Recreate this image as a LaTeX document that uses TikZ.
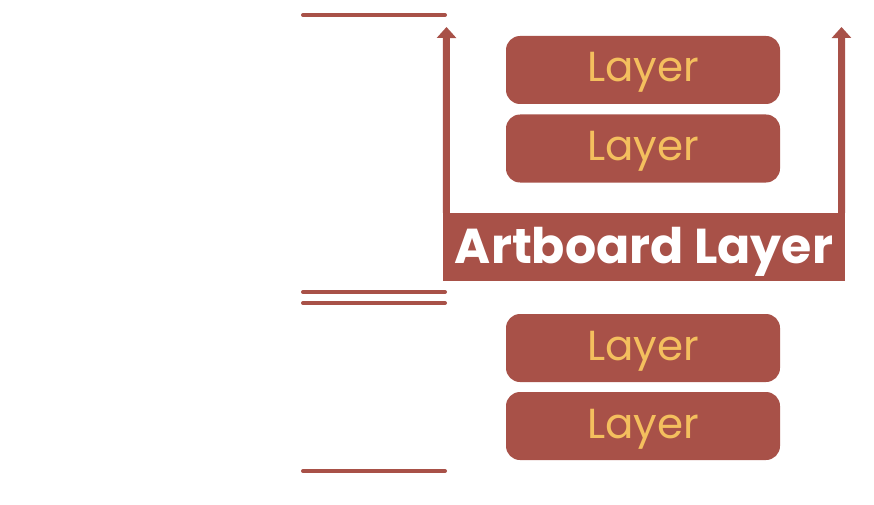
\documentclass[tikz,border=0pt]{standalone}
\usepackage{fontspec}
\newfontfamily\pop{Poppins}
\usetikzlibrary{arrows.meta}
\definecolor{brick}{HTML}{A85148}
\definecolor{gold}{HTML}{F4BF5E}
\begin{document}
\begin{tikzpicture}[x=1pt,y=-1pt,
  layerbox/.style={fill=brick,rounded corners=14pt,minimum width=274pt,minimum height=68pt,inner sep=0pt,text height=30pt,text depth=6pt,text=gold,font=\pop\fontsize{42}{42}\selectfont},
  artbox/.style={fill=brick,minimum width=402pt,minimum height=68pt,inner sep=0pt,text height=36pt,text depth=4pt,text=white,font=\pop\bfseries\fontsize{49}{49}\selectfont},
  rule/.style={draw=brick,line width=4pt,line cap=round},
  uparrow/.style={draw=brick,line width=7pt,-{Triangle[width=19pt,length=11pt]}}]
\useasboundingbox (0,0) rectangle (874,505);
\node[layerbox] (l1) at (643,70) {Layer};
\node[layerbox] (l2) at (643,148.5) {Layer};
\node[layerbox] (l3) at (643,348) {Layer};
\node[layerbox] (l4) at (643,426) {Layer};
\node[artbox] (art) at (644,247) {Artboard Layer};
\coordinate (ltip) at (446.5,27);
\coordinate (rtip) at (841.5,27);
\draw[uparrow] ([xshift=3.5pt]art.north west) -- (ltip);
\draw[uparrow] ([xshift=-3.5pt]art.north east) -- (rtip);
\coordinate (a1) at (303,15); \coordinate (b1) at (445,15);
\coordinate (a2) at (303,292); \coordinate (b2) at (445,292);
\coordinate (a3) at (303,303); \coordinate (b3) at (445,303);
\coordinate (a4) at (303,471); \coordinate (b4) at (445,471);
\draw[rule] (a1) -- (b1);
\draw[rule] (a2) -- (b2);
\draw[rule] (a3) -- (b3);
\draw[rule] (a4) -- (b4);
\end{tikzpicture}
\end{document}
